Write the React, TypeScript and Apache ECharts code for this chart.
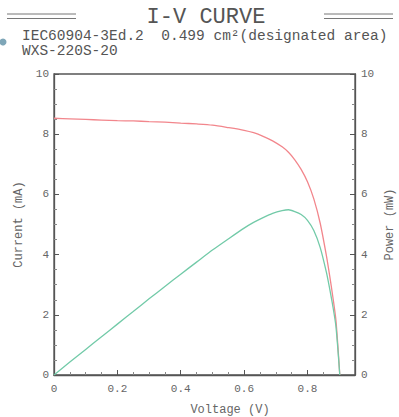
import React, { useEffect, useRef } from "react";
import * as echarts from "echarts";

const voltage = [0, 0.05, 0.1, 0.15, 0.2, 0.25, 0.3, 0.35, 0.4, 0.45, 0.5, 0.55, 0.6, 0.63, 0.66, 0.69, 0.72, 0.74, 0.76, 0.78, 0.8, 0.82, 0.84, 0.86, 0.87, 0.88, 0.89, 0.902];
const current = [8.53, 8.51, 8.49, 8.47, 8.45, 8.44, 8.42, 8.4, 8.37, 8.34, 8.3, 8.22, 8.13, 8.05, 7.93, 7.78, 7.58, 7.4, 7.15, 6.83, 6.42, 5.85, 5.05, 3.95, 3.3, 2.6, 1.8, 0];
const power = [0, 0.43, 0.85, 1.27, 1.69, 2.11, 2.53, 2.94, 3.35, 3.75, 4.15, 4.52, 4.88, 5.07, 5.23, 5.37, 5.46, 5.49, 5.43, 5.33, 5.14, 4.8, 4.24, 3.4, 2.87, 2.29, 1.6, 0];

const titleText = "I-V CURVE";
const subtitle1 = "IEC60904-3Ed.2  0.499 cm²(designated area)";
const subtitle2 = "WXS-220S-20";
const xName = "Voltage (V)";
const yLeftName = "Current (mA)";
const yRightName = "Power (mW)";

const MONO = "'Courier New', Courier, 'Liberation Mono', monospace";
const AXIS_COLOR = "#555";
const LABEL_COLOR = "#666";

export default function App() {
  const ref = useRef<HTMLDivElement>(null);
  useEffect(() => {
    if (!ref.current) return;
    const chart = echarts.init(ref.current, null, { renderer: "svg" });
    const axisCommon = {
      axisLine: { show: true, lineStyle: { color: AXIS_COLOR, width: 1.3 } },
      axisTick: { show: true, inside: true, length: 5, lineStyle: { color: AXIS_COLOR } },
      minorTick: { show: true, splitNumber: 4, length: 3, lineStyle: { color: "#888" } },
      splitLine: { show: false },
      minorSplitLine: { show: false },
      axisLabel: { color: LABEL_COLOR, fontFamily: MONO, fontSize: 11 },
    };
    chart.setOption({
      animation: false,
      backgroundColor: "#fff",
      grid: { left: 54, right: 44, top: 74, bottom: 42, show: true, borderColor: AXIS_COLOR, borderWidth: 1.3 },
      xAxis: {
        type: "value",
        min: 0,
        max: 0.95,
        interval: 0.2,
        ...axisCommon,
        axisLabel: { ...axisCommon.axisLabel, margin: 8, showMaxLabel: false, formatter: (v: number) => (v === 0 ? "0" : v.toFixed(1)) },
      },
      yAxis: [
        { type: "value", min: 0, max: 10, interval: 2, position: "left", ...axisCommon, axisLabel: { ...axisCommon.axisLabel, margin: 5 } },
        { type: "value", min: 0, max: 10, interval: 2, position: "right", ...axisCommon, axisLabel: { ...axisCommon.axisLabel, margin: 6 } },
      ],
      series: [
        {
          type: "line",
          name: "Current",
          yAxisIndex: 0,
          data: voltage.map((v, i) => [v, current[i]]),
          smooth: 0.25,
          showSymbol: false,
          lineStyle: { color: "#f2868c", width: 1.3 },
          itemStyle: { color: "#f2868c" },
        },
        {
          type: "line",
          name: "Power",
          yAxisIndex: 1,
          data: voltage.map((v, i) => [v, power[i]]),
          smooth: 0.25,
          showSymbol: false,
          lineStyle: { color: "#72caa8", width: 1.3 },
          itemStyle: { color: "#72caa8" },
        },
      ],
      graphic: [
        { type: "line", shape: { x1: 7, y1: 14, x2: 76, y2: 14 }, style: { stroke: "#777", lineWidth: 1 } },
        { type: "line", shape: { x1: 7, y1: 18.5, x2: 76, y2: 18.5 }, style: { stroke: "#777", lineWidth: 1 } },
        { type: "line", shape: { x1: 324, y1: 14, x2: 393, y2: 14 }, style: { stroke: "#777", lineWidth: 1 } },
        { type: "line", shape: { x1: 324, y1: 18.5, x2: 393, y2: 18.5 }, style: { stroke: "#777", lineWidth: 1 } },
        { type: "text", x: 206, y: 17, style: { text: titleText, font: `22px ${MONO}`, fill: "#555", align: "center", verticalAlign: "middle" } },
        { type: "circle", shape: { cx: 3, cy: 42, r: 3.5 }, style: { fill: "#7ea6b8" } },
        { type: "text", x: 22, y: 36, style: { text: subtitle1, font: `14.5px ${MONO}`, fill: "#555", align: "left", verticalAlign: "middle" } },
        { type: "text", x: 22, y: 50.5, style: { text: subtitle2, font: `14.5px ${MONO}`, fill: "#555", align: "left", verticalAlign: "middle" } },
        { type: "text", x: 230, y: 410, style: { text: xName, font: `12px ${MONO}`, fill: LABEL_COLOR, align: "center", verticalAlign: "middle" } },
        { type: "text", x: 18.5, y: 224.5, rotation: Math.PI / 2, style: { text: yLeftName, font: `12px ${MONO}`, fill: LABEL_COLOR, align: "center", verticalAlign: "middle" } },
        { type: "text", x: 390, y: 224.5, rotation: Math.PI / 2, style: { text: yRightName, font: `12px ${MONO}`, fill: LABEL_COLOR, align: "center", verticalAlign: "middle" } },
      ],
    });
    return () => chart.dispose();
  }, []);
  return <div ref={ref} style={{ position: "fixed", left: 0, top: 0, width: 399, height: 417 }} />;
}
